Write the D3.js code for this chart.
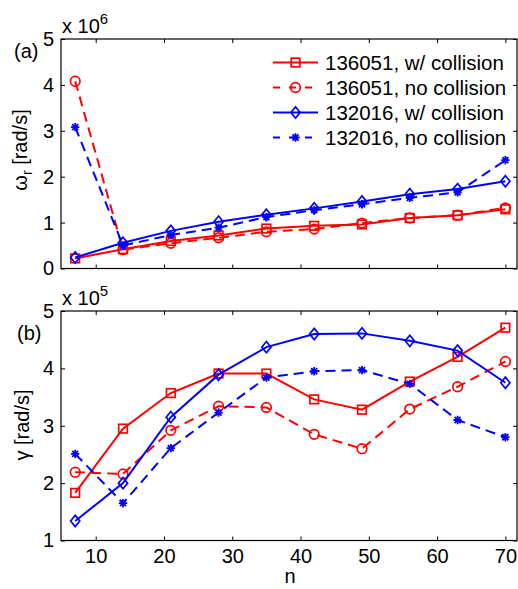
<!DOCTYPE html>
<html><head><meta charset="utf-8">
<script src="https://cdn.jsdelivr.net/npm/d3@7"></script>
<style>
html,body{margin:0;padding:0;background:#fff;}
text{font-family:"Liberation Sans",Arial,sans-serif;fill:#000;}
</style></head>
<body>
<svg id="c" width="518" height="589"></svg>
<script>
const nValues = [7,14,21,28,35,42,49,56,63,70];
const seriesNames = ["136051, w/ collision","136051, no collision","132016, w/ collision","132016, no collision"];
// omega_r in units of 1e6 rad/s
const omega136051Coll   = [0.22,0.42,0.60,0.72,0.87,0.93,0.96,1.10,1.16,1.29];
const omega136051NoColl = [4.08,0.41,0.55,0.67,0.80,0.86,0.99,1.10,1.16,1.32];
const omega132016Coll   = [0.24,0.56,0.82,1.02,1.17,1.31,1.46,1.62,1.73,1.90];
const omega132016NoColl = [3.08,0.50,0.73,0.89,1.12,1.27,1.40,1.54,1.66,2.36];
// gamma in units of 1e5 rad/s
const gamma136051Coll   = [1.83,2.95,3.57,3.91,3.91,3.46,3.28,3.77,4.20,4.71];
const gamma136051NoColl = [2.19,2.16,2.92,3.34,3.32,2.85,2.60,3.29,3.68,4.12];
const gamma132016Coll   = [1.34,2.00,3.15,3.89,4.37,4.60,4.61,4.48,4.31,3.75];
const gamma132016NoColl = [2.51,1.65,2.61,3.23,3.84,3.95,3.97,3.73,3.10,2.80];
const xTicks = [10,20,30,40,50,60,70];
const yTicksTop = [0,1,2,3,4,5];
const yTicksBottom = [1,2,3,4,5];

const styles = [
  {color:"#ff0000", dash:null, marker:"square"},
  {color:"#ff0000", dash:"10,6", marker:"circle"},
  {color:"#0000ff", dash:null, marker:"diamond"},
  {color:"#0000ff", dash:"10,6", marker:"star"}
];

const svg = d3.select("#c");
const x = d3.scaleLinear().domain([4.92,71.7]).range([61,517]);

function drawMarker(g, type, cx, cy, color){
  const sw = 1.7;
  if(type==="square"){
    g.append("rect").attr("x",cx-4.3).attr("y",cy-4.3).attr("width",8.6).attr("height",8.6)
      .attr("fill","none").attr("stroke",color).attr("stroke-width",sw);
  } else if(type==="circle"){
    g.append("circle").attr("cx",cx).attr("cy",cy).attr("r",4.8)
      .attr("fill","none").attr("stroke",color).attr("stroke-width",sw);
  } else if(type==="diamond"){
    g.append("path").attr("d",`M${cx},${cy-5.6}L${cx+4.6},${cy}L${cx},${cy+5.6}L${cx-4.6},${cy}Z`)
      .attr("fill","none").attr("stroke",color).attr("stroke-width",sw);
  } else {
    const r=4.2, d=r*0.72;
    g.append("path").attr("d",`M${cx-r},${cy}L${cx+r},${cy}M${cx},${cy-r}L${cx},${cy+r}M${cx-d},${cy-d}L${cx+d},${cy+d}M${cx-d},${cy+d}L${cx+d},${cy-d}`)
      .attr("fill","none").attr("stroke",color).attr("stroke-width",1.8);
  }
}

function panel(y, yTicks, series, showXLabels){
  const g = svg.append("g");
  const [y0,y1] = y.range();
  const left = x.range()[0], right = x.range()[1];
  series.forEach((vals,i)=>{
    const st = styles[i];
    const line = d3.line().x((d,j)=>x(nValues[j])).y(d=>y(d));
    g.append("path").datum(vals).attr("d",line).attr("fill","none")
      .attr("stroke",st.color).attr("stroke-width",2)
      .attr("stroke-dasharray",st.dash);
    vals.forEach((v,j)=>drawMarker(g, st.marker, x(nValues[j]), y(v), st.color));
  });
  const ax = g.append("g");
  ax.append("g").attr("transform",`translate(0,${y0})`)
    .call(d3.axisBottom(x).tickValues(xTicks).tickSizeInner(-4).tickSizeOuter(0).tickPadding(8)
      .tickFormat(showXLabels? d3.format("d") : ()=>""));
  ax.append("g").attr("transform",`translate(0,${y1})`)
    .call(d3.axisTop(x).tickValues(xTicks).tickSizeInner(-4).tickSizeOuter(0).tickFormat(()=>""));
  ax.append("g").attr("transform",`translate(${left},0)`)
    .call(d3.axisLeft(y).tickValues(yTicks).tickSizeInner(-4).tickSizeOuter(0).tickPadding(7).tickFormat(d3.format("d")));
  ax.append("g").attr("transform",`translate(${right},0)`)
    .call(d3.axisRight(y).tickValues(yTicks).tickSizeInner(-4).tickSizeOuter(0).tickFormat(()=>""));
  ax.selectAll(".domain").remove();
  ax.selectAll(".tick line").attr("stroke","#000").attr("stroke-width",1);
  ax.selectAll("text").attr("font-size",20).attr("font-family","Liberation Sans, Arial, sans-serif").attr("fill","#000");
  g.append("rect").attr("x",left).attr("y",y1).attr("width",right-left).attr("height",y0-y1)
    .attr("fill","none").attr("stroke","#000").attr("stroke-width",1.2);
  return g;
}

const yTop = d3.scaleLinear().domain([0,5]).range([268.5,39]);
const yBot = d3.scaleLinear().domain([1,5]).range([540.5,311]);

panel(yTop, yTicksTop, [omega136051Coll,omega136051NoColl,omega132016Coll,omega132016NoColl], false);
panel(yBot, yTicksBottom, [gamma136051Coll,gamma136051NoColl,gamma132016Coll,gamma132016NoColl], true);

function expLabel(yBase, exp){
  const t = svg.append("text").attr("x",62).attr("y",yBase).attr("font-size",20);
  t.append("tspan").text("x 10");
  t.append("tspan").attr("dy",-9).attr("font-size",15).text(exp);
}
expLabel(33,"6");
expLabel(305,"5");

svg.append("text").attr("x",14).attr("y",58).attr("font-size",20).text("(a)");
svg.append("text").attr("x",17).attr("y",340).attr("font-size",20).text("(b)");

const yl1 = svg.append("text").attr("transform","translate(27,150) rotate(-90)").attr("text-anchor","middle").attr("font-size",20);
yl1.append("tspan").text("ω");
yl1.append("tspan").attr("dy",5).attr("font-size",14).text("r");
yl1.append("tspan").attr("dy",-5).text(" [rad/s]");

svg.append("text").attr("transform","translate(29,425) rotate(-90)").attr("text-anchor","middle").attr("font-size",20).text("γ [rad/s]");

svg.append("text").attr("x",290).attr("y",583).attr("text-anchor","middle").attr("font-size",20).text("n");

const lg = svg.append("g");
seriesNames.forEach((name,i)=>{
  const st = styles[i];
  const cy = 62.5 + i*25;
  lg.append("line").attr("x1",273).attr("x2",318).attr("y1",cy).attr("y2",cy)
    .attr("stroke",st.color).attr("stroke-width",2).attr("stroke-dasharray",st.dash? "7,9":null);
  drawMarker(lg, st.marker, 295.5, cy, st.color);
  lg.append("text").attr("x",325).attr("y",cy+7).attr("font-size",20.5).text(name);
});
</script>
</body></html>
